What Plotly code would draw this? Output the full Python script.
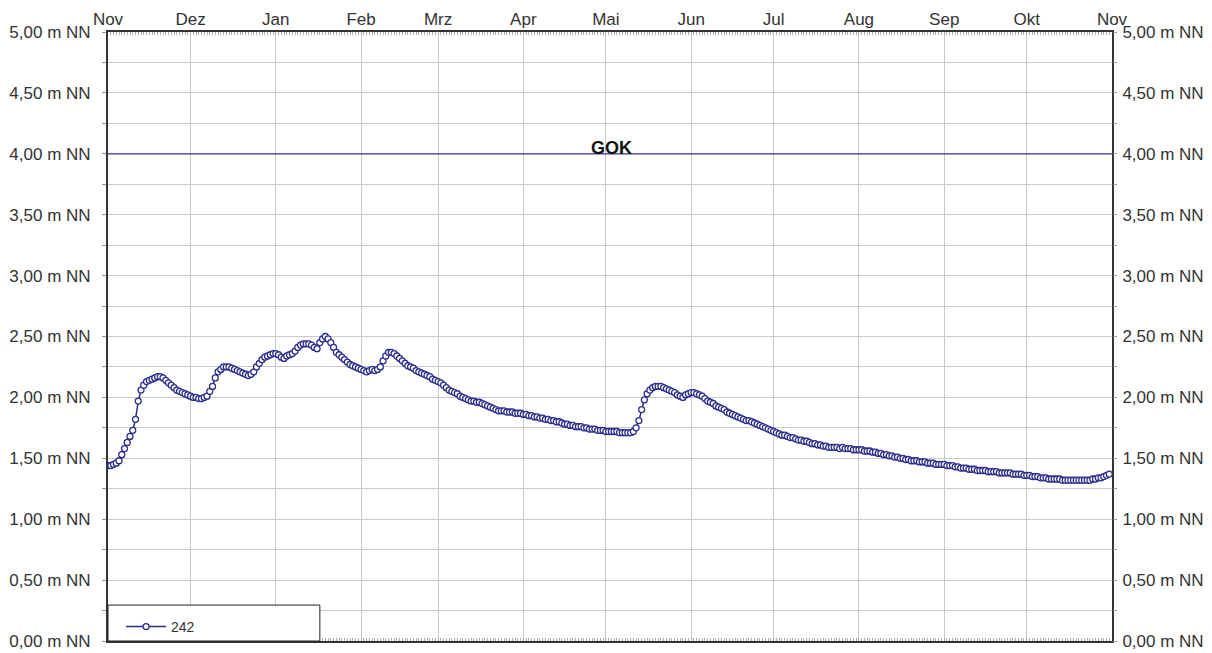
import pandas as pd
import plotly.graph_objects as go

# ---- data (daily water level, m NN) ----
START_DATE = "2020-11-01"
nov = [1.44, 1.44, 1.45, 1.46, 1.48, 1.53, 1.58, 1.63, 1.68, 1.73,
       1.82, 1.97, 2.06, 2.10, 2.13, 2.14, 2.15, 2.16, 2.17, 2.17,
       2.16, 2.14, 2.12, 2.10, 2.08, 2.06, 2.05, 2.04, 2.03, 2.02]
dez = [2.01, 2.00, 2.00, 1.99, 1.99, 2.00, 2.01, 2.05, 2.09, 2.16,
       2.21, 2.23, 2.25, 2.25, 2.25, 2.24, 2.23, 2.22, 2.21, 2.20,
       2.19, 2.18, 2.19, 2.21, 2.25, 2.28, 2.31, 2.33, 2.34, 2.35, 2.36]
jan = [2.36, 2.35, 2.33, 2.32, 2.34, 2.35, 2.36, 2.38, 2.41, 2.43,
       2.44, 2.44, 2.44, 2.43, 2.41, 2.40, 2.45, 2.48, 2.50, 2.48,
       2.45, 2.41, 2.37, 2.35, 2.33, 2.31, 2.29, 2.27, 2.26, 2.25, 2.24]
feb = [2.23, 2.22, 2.21, 2.22, 2.23, 2.22, 2.23, 2.25, 2.30, 2.34,
       2.37, 2.37, 2.36, 2.34, 2.32, 2.30, 2.28, 2.26, 2.25, 2.24,
       2.22, 2.21, 2.20, 2.19, 2.18, 2.17, 2.15, 2.14]
mrz = [2.13, 2.12, 2.10, 2.08, 2.06, 2.05, 2.04, 2.03, 2.01, 2.00,
       1.99, 1.98, 1.97, 1.97, 1.96, 1.96, 1.95, 1.94, 1.93, 1.92,
       1.91, 1.90, 1.89, 1.89, 1.89, 1.88, 1.88, 1.88, 1.87, 1.87, 1.87]
apr = [1.86, 1.86, 1.85, 1.85, 1.84, 1.84, 1.83, 1.83, 1.82, 1.82,
       1.81, 1.81, 1.80, 1.80, 1.79, 1.78, 1.78, 1.77, 1.77, 1.76,
       1.76, 1.76, 1.75, 1.75, 1.74, 1.74, 1.74, 1.73, 1.73, 1.73]
mai = [1.72, 1.72, 1.72, 1.72, 1.72, 1.71, 1.71, 1.71, 1.71, 1.71,
       1.72, 1.75, 1.81, 1.90, 1.98, 2.03, 2.06, 2.08, 2.09, 2.09,
       2.09, 2.08, 2.07, 2.06, 2.05, 2.04, 2.02, 2.01, 2.00, 2.02, 2.03]
jun = [2.04, 2.04, 2.03, 2.02, 2.01, 1.99, 1.97, 1.96, 1.95, 1.93,
       1.92, 1.91, 1.90, 1.88, 1.87, 1.86, 1.85, 1.84, 1.83, 1.82,
       1.81, 1.81, 1.80, 1.79, 1.78, 1.77, 1.76, 1.75, 1.74, 1.73]
jul = [1.72, 1.71, 1.70, 1.69, 1.69, 1.68, 1.67, 1.67, 1.66, 1.65,
       1.65, 1.64, 1.64, 1.63, 1.62, 1.62, 1.61, 1.61, 1.60, 1.60,
       1.59, 1.59, 1.59, 1.59, 1.58, 1.59, 1.58, 1.58, 1.58, 1.57, 1.57]
aug = [1.57, 1.57, 1.56, 1.56, 1.56, 1.55, 1.55, 1.54, 1.54, 1.53,
       1.53, 1.52, 1.52, 1.51, 1.51, 1.50, 1.50, 1.49, 1.49, 1.48,
       1.48, 1.48, 1.47, 1.47, 1.47, 1.46, 1.46, 1.46, 1.45, 1.45, 1.45]
sep = [1.45, 1.44, 1.44, 1.44, 1.43, 1.43, 1.42, 1.42, 1.42, 1.41,
       1.41, 1.41, 1.40, 1.40, 1.40, 1.40, 1.39, 1.39, 1.39, 1.39,
       1.38, 1.38, 1.38, 1.38, 1.38, 1.37, 1.37, 1.37, 1.37, 1.36]
okt = [1.36, 1.36, 1.35, 1.35, 1.35, 1.34, 1.34, 1.34, 1.33, 1.33,
       1.33, 1.33, 1.33, 1.32, 1.32, 1.32, 1.32, 1.32, 1.32, 1.32,
       1.32, 1.32, 1.32, 1.32, 1.33, 1.33, 1.34, 1.34, 1.35, 1.36, 1.37]

SERIES_NAME = "242"
GOK_LEVEL = 4.0
GOK_LABEL = "GOK"
MONTH_LABELS = ["Nov", "Dez", "Jan", "Feb", "Mrz", "Apr", "Mai", "Jun",
                "Jul", "Aug", "Sep", "Okt", "Nov"]
Y_TICKS = [0.0, 0.5, 1.0, 1.5, 2.0, 2.5, 3.0, 3.5, 4.0, 4.5, 5.0]
Y_LABELS = [f"{v:.2f}".replace(".", ",") + " m NN" for v in Y_TICKS]

values = nov + dez + jan + feb + mrz + apr + mai + jun + jul + aug + sep + okt
dates = pd.date_range(START_DATE, periods=len(values), freq="D")
month_ticks = pd.date_range(START_DATE, periods=len(MONTH_LABELS), freq="MS")

LINE_COLOR = "#2d2d8c"
GRID = "#c9c9c9"
AXIS_LINE = "#333333"
FONT = "Liberation Sans, Arial, sans-serif"

fig = go.Figure()
fig.add_trace(go.Scatter(
    x=dates, y=values, name=SERIES_NAME, mode="lines+markers",
    line=dict(color=LINE_COLOR, width=1.5),
    marker=dict(symbol="circle", size=6, color="white",
                line=dict(color=LINE_COLOR, width=1.3)),
))
# invisible trace to activate right axis
fig.add_trace(go.Scatter(x=[dates[0]], y=[Y_TICKS[0]], yaxis="y2",
                         mode="markers", marker=dict(opacity=0),
                         showlegend=False, hoverinfo="skip"))

# page body has an 8px margin -> figure sized/offset accordingly
fig.update_layout(
    width=1204, height=645,
    margin=dict(l=100, r=100, t=24, b=10),
    paper_bgcolor="white", plot_bgcolor="white",
    font=dict(family=FONT, size=17, color="#333333"),
    showlegend=True,
    xaxis=dict(
        type="date", side="top", automargin=False,
        range=[month_ticks[0], month_ticks[-1]],
        tickmode="array", tickvals=month_ticks, ticktext=MONTH_LABELS,
        tickfont=dict(size=17),
        showgrid=True, gridcolor=GRID, gridwidth=1,
        showline=True, linecolor=AXIS_LINE, linewidth=2, mirror="allticks",
        ticks="inside", ticklen=0, tickcolor="#999999",
        minor=dict(dtick=86400000, ticks="inside", ticklen=3,
                   tickcolor="#aaaaaa", showgrid=False),
        zeroline=False, fixedrange=True, ticklabelstandoff=-2,
    ),
    yaxis=dict(
        range=[0, 5], automargin=False,
        tickmode="array", tickvals=Y_TICKS, ticktext=Y_LABELS,
        tickfont=dict(size=17),
        showgrid=True, gridcolor=GRID, gridwidth=1,
        minor=dict(dtick=0.25, showgrid=True, gridcolor=GRID,
                   ticks="outside", ticklen=4, tickcolor="#999999"),
        ticks="outside", ticklen=4, tickcolor="#999999",
        showline=True, linecolor=AXIS_LINE, linewidth=2, mirror=True,
        zeroline=False, ticklabelstandoff=8,
    ),
    yaxis2=dict(
        range=[0, 5], overlaying="y", side="right", automargin=False,
        tickmode="array", tickvals=Y_TICKS, ticktext=Y_LABELS,
        tickfont=dict(size=17),
        showgrid=False, ticks="outside", ticklen=4, tickcolor="#999999",
        minor=dict(dtick=0.25, ticks="outside", ticklen=4, tickcolor="#999999"),
        showline=False, zeroline=False, ticklabelstandoff=2,
    ),
    legend=dict(
        x=0.013, y=0.023, xanchor="left", yanchor="middle",
        bgcolor="rgba(0,0,0,0)", borderwidth=0, itemwidth=40,
        font=dict(size=14, color="#333333"),
    ),
)

# GOK reference line
fig.add_shape(type="line", xref="paper", x0=0, x1=1, yref="y",
              y0=GOK_LEVEL, y1=GOK_LEVEL,
              line=dict(color="#3a3a9e", width=1.3), layer="above")
fig.add_annotation(xref="paper", x=0.501, yref="y", y=GOK_LEVEL,
                   text=f"<b>{GOK_LABEL}</b>", showarrow=False,
                   yanchor="bottom", yshift=-6,
                   font=dict(size=18, color="#111111", family=FONT))

# legend frame
fig.add_shape(type="rect", xref="paper", yref="paper",
              x0=0, x1=0.211, y0=0, y1=0.059,
              fillcolor="white", line=dict(color="#222222", width=1),
              layer="above")

fig.write_html("out.html")
